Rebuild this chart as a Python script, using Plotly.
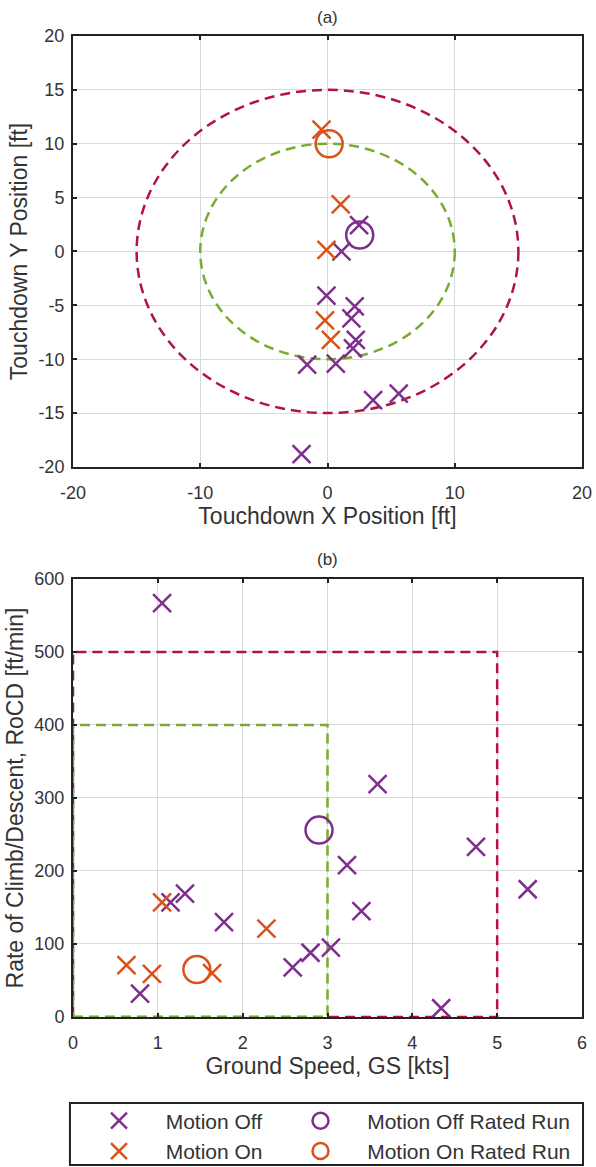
import plotly.graph_objects as go

# ---- data: panel (a) touchdown position [ft]
off_x = [2.48, 1.1, -0.08, 2.14, 1.88, 2.22, 2.0, -1.6, 0.65, 3.58, 5.6, -2.04]
off_y = [2.45, 0.0, -4.1, -5.1, -6.2, -8.2, -9.0, -10.5, -10.4, -13.8, -13.2, -18.8]
on_x = [-0.47, 1.04, -0.08, -0.2, 0.26]
on_y = [11.3, 4.37, 0.14, -6.4, -8.2]
off_rated_xy = [2.53, 1.53]
on_rated_xy = [0.13, 10.0]
inner_radius = 10
outer_radius = 15
a_xticks = [-20, -10, 0, 10, 20]
a_yticks = [-20, -15, -10, -5, 0, 5, 10, 15, 20]

# ---- data: panel (b) ground speed [kts] vs RoCD [ft/min]
off_gs = [1.05, 3.59, 4.75, 3.23, 5.36, 1.32, 1.15, 3.4, 1.78, 3.04, 2.8, 2.59, 0.79, 4.34]
off_rocd = [567, 319, 233, 208, 175, 169, 157, 145, 130, 95, 88, 68, 32, 12]
on_gs = [1.05, 2.28, 0.63, 0.93, 1.64]
on_rocd = [157, 121, 71, 59, 60]
off_rated_b = [2.9, 256]
on_rated_b = [1.46, 65]
inner_box = [3, 400]
outer_box = [5, 500]
b_xticks = [0, 1, 2, 3, 4, 5, 6]
b_yticks = [0, 100, 200, 300, 400, 500, 600]

PURPLE = "#7E2F8E"
ORANGE = "#D95319"
GREEN = "#77AC30"
RED = "#B0163A"
FONT = "Liberation Sans"
TXT = "#333333"
PAD = "\u00a0\u00a0"

fig = go.Figure()

xm = dict(symbol="x-thin-open", size=18, line=dict(width=2.5))
om = dict(symbol="circle-open", size=27, line=dict(width=2.5))

# panel (a)
fig.add_trace(go.Scatter(x=off_x, y=off_y, mode="markers", xaxis="x", yaxis="y",
                         marker=dict(color=PURPLE, **xm), showlegend=False))
fig.add_trace(go.Scatter(x=on_x, y=on_y, mode="markers", xaxis="x", yaxis="y",
                         marker=dict(color=ORANGE, **xm), showlegend=False))
fig.add_trace(go.Scatter(x=[off_rated_xy[0]], y=[off_rated_xy[1]], mode="markers", xaxis="x", yaxis="y",
                         marker=dict(color=PURPLE, **om), showlegend=False))
fig.add_trace(go.Scatter(x=[on_rated_xy[0]], y=[on_rated_xy[1]], mode="markers", xaxis="x", yaxis="y",
                         marker=dict(color=ORANGE, **om), showlegend=False))

# panel (b)
fig.add_trace(go.Scatter(x=off_gs, y=off_rocd, mode="markers", xaxis="x2", yaxis="y2",
                         name=PAD + "Motion Off", legend="legend", marker=dict(color=PURPLE, **xm)))
fig.add_trace(go.Scatter(x=on_gs, y=on_rocd, mode="markers", xaxis="x2", yaxis="y2",
                         name=PAD + "Motion On", legend="legend", marker=dict(color=ORANGE, **xm)))
fig.add_trace(go.Scatter(x=[off_rated_b[0]], y=[off_rated_b[1]], mode="markers", xaxis="x2", yaxis="y2",
                         name=PAD + "Motion Off Rated Run", legend="legend2", marker=dict(color=PURPLE, **om)))
fig.add_trace(go.Scatter(x=[on_rated_b[0]], y=[on_rated_b[1]], mode="markers", xaxis="x2", yaxis="y2",
                         name=PAD + "Motion On Rated Run", legend="legend2", marker=dict(color=ORANGE, **om)))

dash = "10px,6px"
shapes = [
    dict(type="circle", xref="x", yref="y", x0=-outer_radius, x1=outer_radius,
         y0=-outer_radius, y1=outer_radius, line=dict(color=RED, width=2.5, dash=dash), layer="between"),
    dict(type="circle", xref="x", yref="y", x0=-inner_radius, x1=inner_radius,
         y0=-inner_radius, y1=inner_radius, line=dict(color=GREEN, width=2.5, dash=dash), layer="between"),
    dict(type="rect", xref="x2", yref="y2", x0=0, x1=outer_box[0], y0=0, y1=outer_box[1],
         line=dict(color=RED, width=2.5, dash=dash), layer="between"),
    dict(type="rect", xref="x2", yref="y2", x0=0, x1=inner_box[0], y0=0, y1=inner_box[1],
         line=dict(color=GREEN, width=2.5, dash=dash), layer="between"),
    # legend frame
    dict(type="rect", xref="paper", yref="paper", x0=-0.006, x1=1.002, y0=-0.1509, y1=-0.0877,
         line=dict(color="#222", width=2), fillcolor="rgba(0,0,0,0)", layer="above"),
]

axis_common = dict(showline=True, linecolor="#222", linewidth=2, mirror="allticks",
                   ticks="inside", ticklen=4, tickcolor="#222", tickwidth=1.5,
                   showgrid=True, gridcolor="#d9d9d9", gridwidth=1, zeroline=False,
                   tickfont=dict(family=FONT, size=18, color=TXT), tickmode="array")
title_font = dict(family=FONT, size=23, color=TXT)


def ticks(vals):
    return dict(tickvals=vals, ticktext=[str(v) for v in vals])


legend_font = dict(family=FONT, size=21, color=TXT)

fig.update_layout(
    width=596, height=1167,
    margin=dict(l=73, r=14, t=36, b=150, autoexpand=False),
    paper_bgcolor="white", plot_bgcolor="white",
    font=dict(family=FONT, color=TXT),
    shapes=shapes,
    xaxis=dict(domain=[0, 1], range=[-20, 20], anchor="y", ticklabelstandoff=8,
               title=dict(text="Touchdown X Position [ft]", font=title_font, standoff=2),
               **ticks(a_xticks), **axis_common),
    yaxis=dict(domain=[0.5607, 1], range=[-20, 20], anchor="x", ticklabelstandoff=3,
               title=dict(text="Touchdown Y Position [ft]", font=title_font, standoff=4),
               **ticks(a_yticks), **axis_common),
    xaxis2=dict(domain=[0, 1], range=[0, 6], anchor="y2", ticklabelstandoff=8,
                title=dict(text="Ground Speed, GS [kts]", font=title_font, standoff=2),
                **ticks(b_xticks), **axis_common),
    yaxis2=dict(domain=[0, 0.4465], range=[0, 600], anchor="x2", ticklabelstandoff=3,
                title=dict(text="Rate of Climb/Descent, RoCD [ft/min]", font=title_font, standoff=4),
                **ticks(b_yticks), **axis_common),
    legend=dict(orientation="v", x=0.0216, xanchor="left", y=-0.0852, yanchor="top",
                borderwidth=0, bgcolor="rgba(0,0,0,0)", font=legend_font, itemwidth=60),
    legend2=dict(orientation="v", x=0.4175, xanchor="left", y=-0.0852, yanchor="top",
                 borderwidth=0, bgcolor="rgba(0,0,0,0)", font=legend_font, itemwidth=60),
    annotations=[
        dict(text="(a)", xref="paper", yref="paper", x=0.5, y=1.0, yshift=19, showarrow=False,
             xanchor="center", yanchor="middle", font=dict(family=FONT, size=17, color=TXT)),
        dict(text="(b)", xref="paper", yref="paper", x=0.5, y=0.4465, yshift=19, showarrow=False,
             xanchor="center", yanchor="middle", font=dict(family=FONT, size=17, color=TXT)),
    ],
)

fig.write_html("out.html")
